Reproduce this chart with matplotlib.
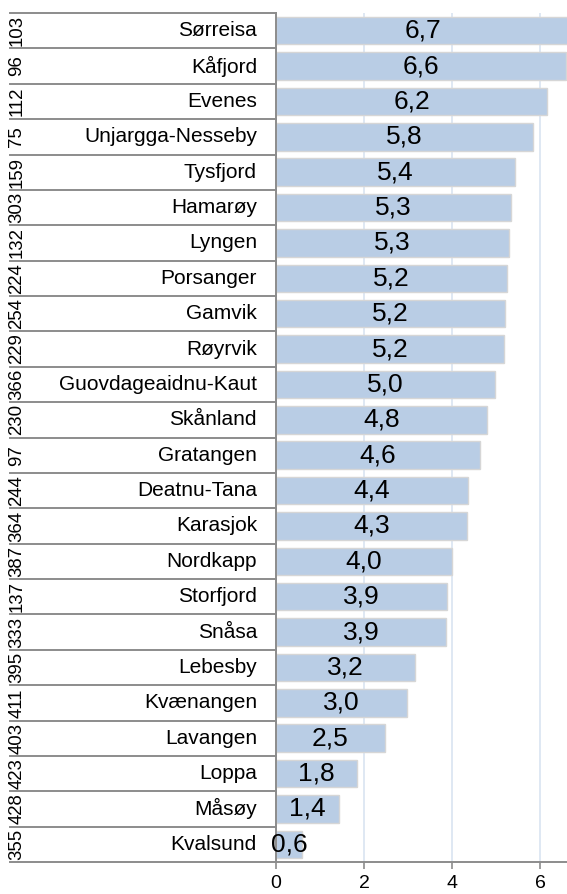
import matplotlib
matplotlib.use('Agg')
import matplotlib.pyplot as plt

plt.rcParams['font.family'] = ['Liberation Sans', 'DejaVu Sans']

kommuner = ['Sørreisa', 'Kåfjord', 'Evenes', 'Unjargga-Nesseby', 'Tysfjord', 'Hamarøy',
            'Lyngen', 'Porsanger', 'Gamvik', 'Røyrvik', 'Guovdageaidnu-Kaut', 'Skånland',
            'Gratangen', 'Deatnu-Tana', 'Karasjok', 'Nordkapp', 'Storfjord', 'Snåsa',
            'Lebesby', 'Kvænangen', 'Lavangen', 'Loppa', 'Måsøy', 'Kvalsund']
koder = ['103', '96', '112', '75', '159', '303', '132', '224', '254', '229', '366', '230',
         '97', '244', '364', '387', '137', '333', '395', '411', '403', '423', '428', '355']
verdi = [6.70, 6.59, 6.16, 5.84, 5.43, 5.34, 5.30, 5.24, 5.21, 5.18, 4.98, 4.80,
         4.64, 4.36, 4.33, 3.99, 3.89, 3.86, 3.16, 2.98, 2.47, 1.83, 1.44, 0.60]
xticks = [0, 2, 4, 6]

W, H = 567, 894
fig = plt.figure(figsize=(W / 100, H / 100), dpi=100)
ax = fig.add_axes([276 / W, 32 / H, 291 / W, 849 / H])

rader = list(range(len(kommuner)))
ax.barh(rader, verdi, height=0.78, color='#b9cde5', edgecolor='#d6d6d6', linewidth=1.0, zorder=2)

for y, v in zip(rader, verdi):
    ax.text(v / 2, y, f'{v:.1f}'.replace('.', ','), ha='center', va='center',
            fontsize=19, color='black', zorder=3)

ax.set_xlim(0, 291 / 44)
ax.set_ylim(len(kommuner) - 0.5, -0.5)
ax.set_xticks(xticks)
ax.set_xticklabels([str(t) for t in xticks], fontsize=14)
ax.set_yticks([])
ax.tick_params(axis='x', length=5, width=1.2, color='#8c8c8c', pad=4)
ax.grid(axis='x', color='#dce6f2', linewidth=1.3, zorder=0)
ax.set_axisbelow(True)

for s in ['top', 'right']:
    ax.spines[s].set_visible(False)
for s in ['left', 'bottom']:
    ax.spines[s].set_color('#8c8c8c')
    ax.spines[s].set_linewidth(1.4)

# venstre tabell med koder og navn
tr = ax.get_yaxis_transform()
x_start = (10 - 276) / 291
for i in range(len(kommuner) + 1):
    ax.plot([x_start, 0], [i - 0.5, i - 0.5], transform=tr, color='#8c8c8c',
            linewidth=1.4, clip_on=False, zorder=1)

for y, navn, kode in zip(rader, kommuner, koder):
    ax.text((257 - 276) / 291, y, navn, transform=tr, ha='right', va='center',
            fontsize=15, color='black')
    ax.text((17 - 276) / 291, y, kode, transform=tr, ha='center', va='center',
            rotation=90, fontsize=13.4, color='black')

fig.savefig('out.png', dpi=100)
